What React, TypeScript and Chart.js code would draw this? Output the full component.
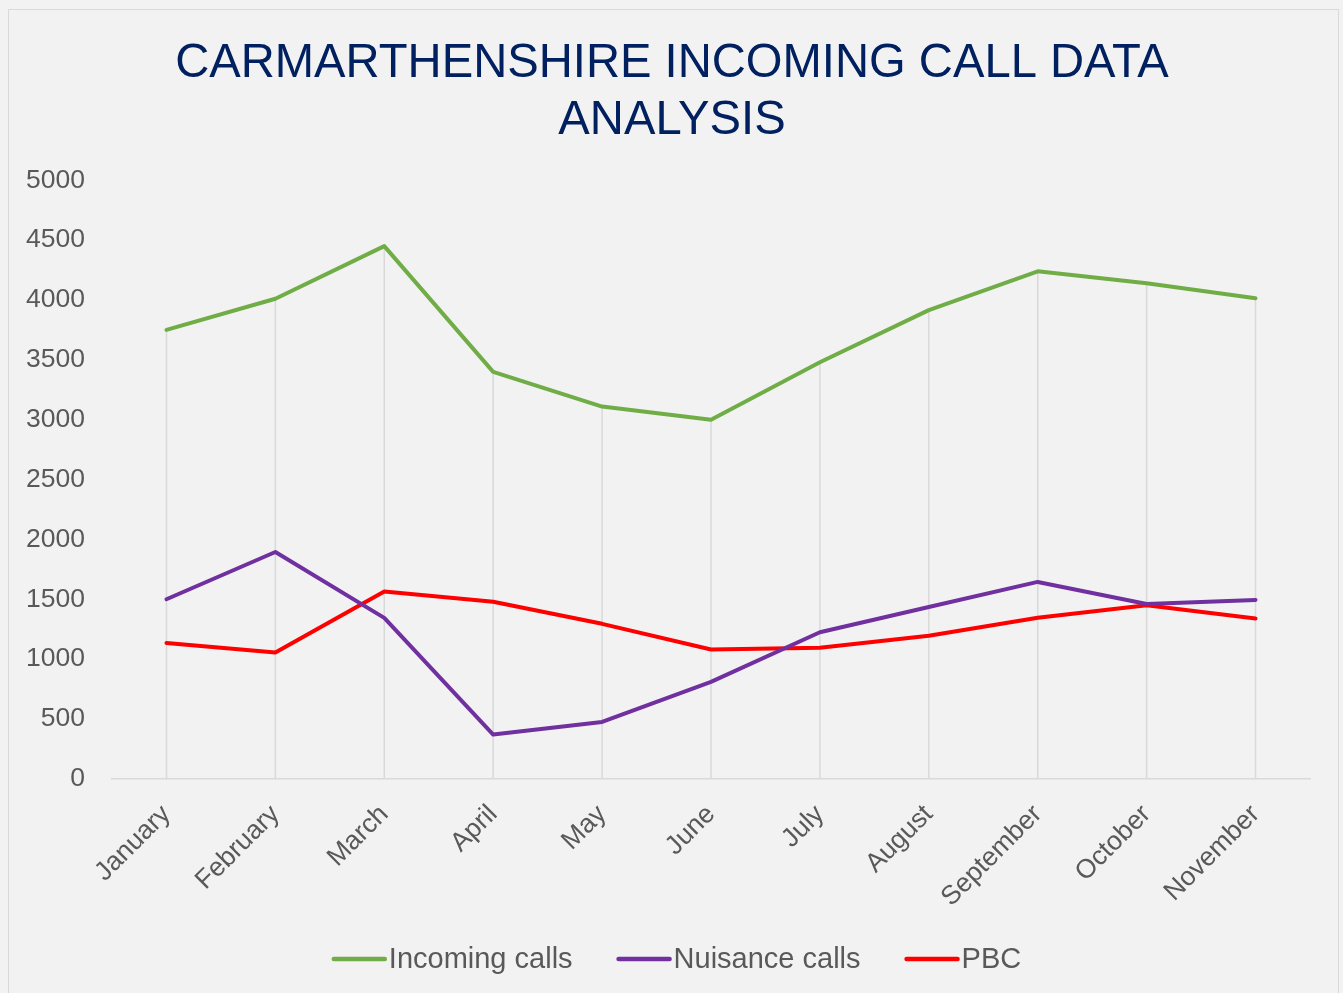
import React, { useEffect, useRef } from "react";
import { Chart, registerables } from "chart.js";

Chart.register(...registerables);

const months = ["January", "February", "March", "April", "May", "June", "July", "August", "September", "October", "November"];
const incomingCalls = [3750, 4010, 4450, 3400, 3110, 3000, 3480, 3915, 4240, 4140, 4015];
const nuisanceCalls = [1500, 1895, 1345, 370, 475, 810, 1225, 1435, 1645, 1460, 1495];
const pbc = [1135, 1055, 1565, 1480, 1295, 1080, 1095, 1195, 1345, 1450, 1340];
const titleLines = ["CARMARTHENSHIRE INCOMING CALL DATA", "ANALYSIS"];

const FONT = "'Liberation Sans', Arial, sans-serif";

const dropLines = {
  id: "dropLines",
  beforeDatasetsDraw(chart: any) {
    const { ctx, scales } = chart;
    const x = scales.x;
    const y = scales.y;
    const n = chart.data.labels.length;
    ctx.save();
    ctx.strokeStyle = "#d9d9d9";
    ctx.lineWidth = 1.5;
    for (let i = 0; i < n; i++) {
      let maxV = -Infinity;
      chart.data.datasets.forEach((ds: any) => {
        const v = ds.data[i];
        if (typeof v === "number" && v > maxV) maxV = v;
      });
      const px = x.getPixelForValue(i);
      ctx.beginPath();
      ctx.moveTo(px, y.getPixelForValue(maxV));
      ctx.lineTo(px, y.getPixelForValue(0));
      ctx.stroke();
    }
    ctx.restore();
  },
};

const bottomLegend = {
  id: "bottomLegend",
  afterDraw(chart: any) {
    const { ctx } = chart;
    const lineLen = 51;
    const textGap = 6;
    const itemGap = 44;
    ctx.save();
    ctx.font = `29px ${FONT}`;
    const items = chart.data.datasets.map((ds: any) => ({
      label: ds.label,
      color: ds.borderColor,
      w: ctx.measureText(ds.label).width,
    }));
    const total =
      items.reduce((s: number, it: any) => s + lineLen + textGap + it.w, 0) + itemGap * (items.length - 1);
    let x = chart.width / 2 - total / 2 + 3;
    const lineY = chart.height - 49;
    const baseY = chart.height - 40;
    items.forEach((it: any) => {
      ctx.strokeStyle = it.color;
      ctx.lineWidth = 4.5;
      ctx.lineCap = "round";
      ctx.beginPath();
      ctx.moveTo(x + 2, lineY);
      ctx.lineTo(x + lineLen + 2, lineY);
      ctx.stroke();
      ctx.fillStyle = "#595959";
      ctx.textAlign = "left";
      ctx.textBaseline = "alphabetic";
      ctx.fillText(it.label, x + lineLen + textGap, baseY);
      x += lineLen + textGap + it.w + itemGap;
    });
    ctx.restore();
  },
};

export default function App() {
  const ref = useRef<HTMLCanvasElement | null>(null);
  useEffect(() => {
    document.body.style.margin = "0";
    document.body.style.overflow = "hidden";
    document.body.style.background = "#f2f2f2";
    if (!ref.current) return;
    const chart = new Chart(ref.current, {
      type: "line",
      data: {
        labels: months,
        datasets: [
          { label: "Incoming calls", data: incomingCalls, borderColor: "#70ad47", backgroundColor: "#70ad47" },
          { label: "Nuisance calls", data: nuisanceCalls, borderColor: "#7030a0", backgroundColor: "#7030a0" },
          { label: "PBC", data: pbc, borderColor: "#ff0000", backgroundColor: "#ff0000" },
        ].map((d) => ({
          ...d,
          borderWidth: 4,
          pointRadius: 0,
          pointHoverRadius: 0,
          tension: 0,
          borderCapStyle: "round" as const,
          borderJoinStyle: "round" as const,
        })),
      },
      options: {
        animation: false,
        responsive: true,
        maintainAspectRatio: false,
        layout: { padding: { left: 17, right: 20, top: 26, bottom: 75 } },
        plugins: {
          title: {
            display: true,
            text: titleLines,
            color: "#002060",
            font: { family: FONT, size: 47.2, weight: "normal", lineHeight: 1.2 },
            padding: { top: 0, bottom: 31 },
          },
          legend: { display: false },
          tooltip: { enabled: false },
        },
        scales: {
          x: {
            offset: true,
            grid: { display: false, offset: false, drawTicks: false },
            border: { display: true, color: "#d9d9d9", width: 1.5 },
            ticks: {
              color: "#595959",
              font: { family: FONT, size: 26.5 },
              maxRotation: 45,
              minRotation: 45,
              padding: 20,
            },
            afterFit(scale: any) {
              scale.paddingLeft = 0;
              scale.paddingRight = 28;
            },
          },
          y: {
            min: 0,
            max: 5000,
            grid: { display: false, drawTicks: false },
            border: { display: false },
            ticks: {
              stepSize: 500,
              color: "#595959",
              font: { family: FONT, size: 26.5 },
              padding: 27,
              callback: (v: any) => String(v),
            },
            afterFit(scale: any) {
              scale.width = 86;
            },
          },
        },
      },
      plugins: [dropLines, bottomLegend],
    });
    return () => chart.destroy();
  }, []);
  return (
    <div
      style={{
        position: "absolute",
        left: 8,
        top: 9,
        width: 1331,
        height: 1000,
        border: "1px solid #d9d9d9",
        background: "#f2f2f2",
        boxSizing: "border-box",
      }}
    >
      <div style={{ position: "relative", width: "100%", height: "100%" }}>
        <canvas ref={ref} />
      </div>
    </div>
  );
}
